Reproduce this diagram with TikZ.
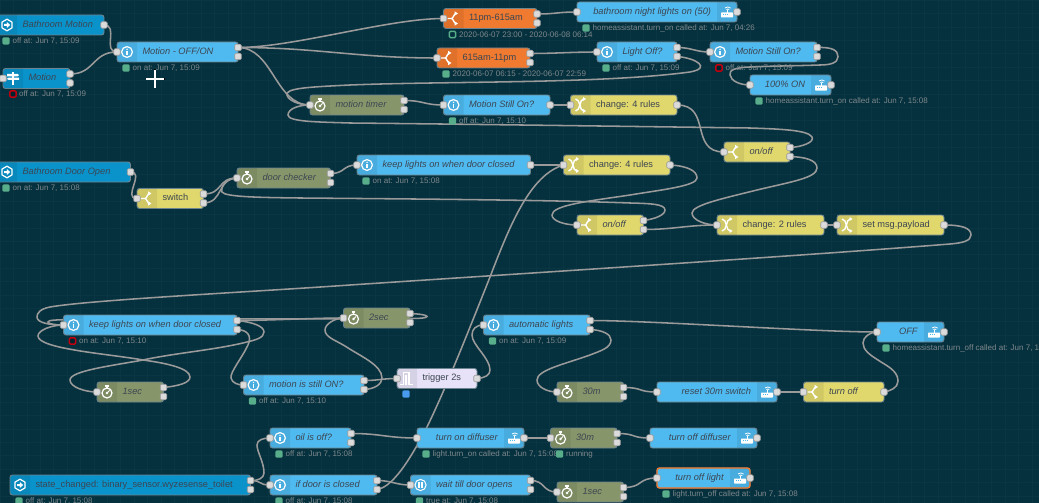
\documentclass[tikz,border=0pt]{standalone}
\usepackage{fontspec}
\setmainfont{Liberation Sans}
\usetikzlibrary{calc}
\definecolor{nrbg}{HTML}{05303D}
\definecolor{nrgrid}{HTML}{0A3643}
\definecolor{nrwire}{HTML}{9A9A9A}
\definecolor{nrline}{HTML}{6C8590}
\definecolor{nrtxt}{HTML}{3C4552}
\definecolor{nrstat}{HTML}{7E888C}
\definecolor{nrblue}{HTML}{4FBAEF}
\definecolor{nrdeep}{HTML}{0A93CB}
\definecolor{nryel}{HTML}{E0D86C}
\definecolor{nroli}{HTML}{87966A}
\definecolor{nrora}{HTML}{F07A2F}
\definecolor{nrlav}{HTML}{E7E2F7}
\definecolor{nrgrn}{HTML}{58AD8A}
\definecolor{nrred}{HTML}{C00010}
\definecolor{nrdot}{HTML}{4A9AEF}
\pgfdeclarelayer{gridl}\pgfdeclarelayer{wirel}
\pgfsetlayers{gridl,wirel,main}
\tikzset{
  nrbox/.style={draw=nrline,line width=.9pt,rounded corners=2.5pt,inner sep=0pt,outer sep=0pt,minimum height=20pt,text=nrtxt,font=\fontsize{9.25}{11}\selectfont},
  nrport/.style={draw=nrwire,fill=black!14,line width=.6pt,rounded corners=1.2pt,minimum size=6.5pt,inner sep=0pt,outer sep=0pt},
  wire/.style={draw=nrwire,line width=1.55pt,line cap=round},
  icl/.style={draw=white,line width=1.2pt},
  dotg/.style={fill=nrgrn,rounded corners=1.4pt,minimum size=7.4pt,inner sep=0pt},
  dotb/.style={fill=nrdot,rounded corners=1.4pt,minimum size=7.4pt,inner sep=0pt},
  dotr/.style={draw=nrred,fill=nrbg!70!black,line width=1.4pt,rounded corners=1pt,minimum size=6.2pt,inner sep=0pt},
  dotq/.style={draw=nrgrn,fill=nrbg,line width=1.4pt,rounded corners=1pt,minimum size=6.2pt,inner sep=0pt},
  stxt/.style={text=nrstat,inner sep=0pt,anchor=west,font=\fontsize{8}{9}\selectfont}
}
% icons, centred on (0,0); y runs downward
\newcommand\icinfo{\draw[icl] (0,0) circle (5.4);\fill[white] (0,-2.7) circle (.8);\fill[white] (-.7,-1.2) rectangle (.7,3);}
\newcommand\ichex{\draw[icl,line join=round] (0,-5.8)--(5,-2.9)--(5,2.9)--(0,5.8)--(-5,2.9)--(-5,-2.9)--cycle;\fill[white] (-3,-1)--(-.2,-1)--(-.2,-3)--(3.2,0)--(-.2,3)--(-.2,1)--(-3,1)--cycle;}
\newcommand\icsign{\fill[white] (-1,-6.5) rectangle (1,6.5);\fill[white] (-6,-4.6)--(4.5,-4.6)--(6.2,-3.4)--(4.5,-2.2)--(-6,-2.2)--cycle;\fill[white] (-4.5,-.8)--(6,-.8)--(6,1.4)--(-4.5,1.4)--(-6.2,.3)--cycle;}
\newcommand\icfork{\draw[white,line width=1.4pt] (-6,0)--(-2,0)..controls (0,0) and (0,-5)..(3,-5);\draw[white,line width=1.4pt] (-2,0)..controls (0,0) and (0,5)..(3,5);\fill[white] (1.2,-7.2)--(4.4,-5)--(1.2,-3)--cycle;\fill[white] (1.2,7.2)--(4.4,5)--(1.2,3)--cycle;}
\newcommand\ictimer{\draw[icl] (0,1) circle (5);\fill[white] (-1.8,-6.6) rectangle (1.8,-5.4);\fill[white] (-.7,-6) rectangle (.7,-3.5);\fill[white] (0,1) circle (1.3);\draw[white,line width=1pt] (0,1)--(2.6,-1.6);}
\newcommand\icmix{\draw[white,line width=1.4pt] (-5,-6)..controls (0,-6) and (-1,6)..(3,6);\draw[white,line width=1.4pt] (-5,6)..controls (0,6) and (-1,-6)..(3,-6);\fill[white] (2.5,-8)--(5.5,-6)--(2.5,-4)--cycle;\fill[white] (2.5,8)--(5.5,6)--(2.5,4)--cycle;}
\newcommand\icrouter{\fill[white,rounded corners=.6pt] (-6,.5) rectangle (6,5.5);\fill[nrblue] (-4,2.4) rectangle (-3,3.4);\fill[nrblue] (-2,2.4) rectangle (-1,3.4);\fill[nrblue] (0,2.4) rectangle (1,3.4);\draw[white,line width=.9pt] (.8,-2)--(.8,1);\draw[white,line width=.8pt] (-2,-4)..controls (0,-5.4) and (1.6,-5.4)..(3.6,-4);\draw[white,line width=.8pt] (-.6,-2.4)..controls (.2,-3.2) and (1.4,-3.2)..(2.2,-2.4);}
\newcommand\icpulse{\draw[white,line width=1.1pt] (-7,6)--(-3.4,6)--(-3.4,-6)--(2,-6)--(2,6)--(6,6);\draw[white,line width=1.1pt] (-1,6)--(-1,-4);}
\newcommand\icpause{\draw[white,line width=1pt] (0,0) circle (5.6);\fill[white] (-2.2,-2.6) rectangle (-.7,2.6);\fill[white] (.7,-2.6) rectangle (2.2,2.6);}
% node: name, x1, x2, y1, colour, side, icon, text
\newcommand\nrn[8]{%
  \pgfmathsetmacro\nrw{#3-#2}\pgfmathsetmacro\nrcx{(#2+#3)/2}\pgfmathsetmacro\nrcy{#4+10}\pgfmathsetmacro\nryb{#4+20}%
  \if#6l%
    \node[nrbox,fill=#5,minimum width=\nrw pt] (#1) at (\nrcx,\nrcy) {\makebox[\nrw pt][l]{\rule[-2.5pt]{0pt}{9.5pt}\hspace{25.5pt}#8}};%
    \pgfmathsetmacro\nrsx{#2+20}\pgfmathsetmacro\nrix{#2+10}%
    \fill[black,opacity=.07,rounded corners=2.5pt] (#2,#4)--(#2,\nryb)[sharp corners]--(\nrsx,\nryb)--(\nrsx,#4)[rounded corners=2.5pt]--cycle;%
  \else%
    \node[nrbox,fill=#5,minimum width=\nrw pt] (#1) at (\nrcx,\nrcy) {\makebox[\nrw pt][r]{\rule[-2.5pt]{0pt}{9.5pt}#8\hspace{26pt}}};%
    \pgfmathsetmacro\nrsx{#3-20}\pgfmathsetmacro\nrix{#3-10}%
    \fill[black,opacity=.07,rounded corners=2.5pt] (#3,#4)--(#3,\nryb)[sharp corners]--(\nrsx,\nryb)--(\nrsx,#4)[rounded corners=2.5pt]--cycle;%
  \fi%
  \begin{scope}[shift={(\nrix,\nrcy)}]#7\end{scope}%
}
\newcommand\nrpi[1]{\node[nrport] (#1-i) at (#1.west) {};}
\newcommand\nrpo[1]{\node[nrport] (#1-o) at (#1.east) {};}
\newcommand\nrpt[1]{\node[nrport] (#1-o1) at ([yshift=4.5pt]#1.east) {};\node[nrport] (#1-o2) at ([yshift=-4.5pt]#1.east) {};}
\newcommand\nrst[3]{\node[#2] (#1-sd) at ([shift={(9pt,-6pt)}]#1.south west) {};\node[stxt] (#1-st) at ([shift={(15.5pt,-6pt)}]#1.south west) {#3};}
\newcommand\fw[3]{\draw[wire] (#1.center) .. controls +(#3,0) and +(-#3,0) .. (#2.center);}
\begin{document}
\begin{tikzpicture}[x=1pt,y=-1pt]
\useasboundingbox (0,0) rectangle (1039,503);
\begin{pgfonlayer}{gridl}
\fill[nrbg] (0,0) rectangle (1039,503);
\foreach \gx in {0,1,...,78}{\draw[nrgrid,line width=.5pt] ({\gx*13.4},0)--({\gx*13.4},503);}
\foreach \gy in {0,1,...,38}{\draw[nrgrid,line width=.5pt] (0,{\gy*13.4})--(1039,{\gy*13.4});}
\end{pgfonlayer}

% row 1
\nrn{bm}{-3}{104}{15}{nrdeep}{l}{\ichex}{\textit{Bathroom Motion}}\nrpo{bm}\nrst{bm}{dotg}{off at: Jun 7, 15:09}
\nrn{mn}{3}{70}{68.5}{nrdeep}{l}{\icsign}{\textit{Motion}}\nrpi{mn}\nrpt{mn}
\node[dotr] (mn-sd) at (13,94) {};\node[stxt] (mn-st) at (19,94) {off at: Jun 7, 15:09};
\nrn{mo}{117}{238}{42}{nrblue}{l}{\icinfo}{\textit{Motion - OFF/ON}}\nrpi{mo}\nrpt{mo}\nrst{mo}{dotg}{on at: Jun 7, 15:09}
\nrn{ea}{443.5}{537}{8.5}{nrora}{l}{\icfork}{11pm-615am}\nrpi{ea}\nrpt{ea}\nrst{ea}{dotq}{2020-06-07 23:00 - 2020-06-08 06:14}
\nrn{eb}{437}{530}{48}{nrora}{l}{\icfork}{615am-11pm}\nrpi{eb}\nrpt{eb}\nrst{eb}{dotg}{2020-06-07 06:15 - 2020-06-07 22:59}
\nrn{nl}{577}{737}{2}{nrblue}{r}{\icrouter}{\textit{bathroom night lights on (50)}}\nrpi{nl}\nrpo{nl}\nrst{nl}{dotg}{homeassistant.turn\_on called at: Jun 7, 04:26}
\nrn{lo}{597}{677}{42}{nrblue}{l}{\icinfo}{\textit{Light Off?}}\nrpi{lo}\nrpt{lo}\nrst{lo}{dotg}{off at: Jun 7, 15:09}
\nrn{ms}{710}{817}{42}{nrblue}{l}{\icinfo}{\textit{Motion Still On?}}\nrpi{ms}\nrpt{ms}\nrst{ms}{dotr}{off at: Jun 7, 15:09}
\nrn{ho}{750}{831}{75}{nrblue}{r}{\icrouter}{\textit{100\% ON}}\nrpi{ho}\nrpo{ho}\nrst{ho}{dotg}{homeassistant.turn\_on called at: Jun 7, 15:08}
\nrn{mt}{310}{404}{95}{nroli}{l}{\ictimer}{\textit{motion timer}}\nrpi{mt}\nrpt{mt}
\nrn{mb}{443.5}{550}{95}{nrblue}{l}{\icinfo}{\textit{Motion Still On?}}\nrpi{mb}\nrpo{mb}\nrst{mb}{dotg}{off at: Jun 7, 15:10}
\nrn{ca}{570.5}{677}{95}{nryel}{l}{\icmix}{change: 4 rules}\nrpi{ca}\nrpo{ca}
\nrn{oa}{724}{790}{142}{nryel}{l}{\icfork}{\textit{on/off}}\nrpi{oa}\nrpt{oa}
% door
\nrn{bd}{-3}{130.5}{162}{nrdeep}{l}{\ichex}{\textit{Bathroom Door Open}}\nrpo{bd}\nrst{bd}{dotg}{on at: Jun 7, 15:08}
\nrn{sw}{137}{203.5}{188.5}{nryel}{l}{\icfork}{switch}\nrpi{sw}\nrpt{sw}
\nrn{dc}{237}{330.5}{168}{nroli}{l}{\ictimer}{\textit{door checker}}\nrpi{dc}\nrpt{dc}
\nrn{kl}{357}{530.5}{155}{nrblue}{l}{\icinfo}{\textit{keep lights on when door closed}}\nrpi{kl}\nrpo{kl}\nrst{kl}{dotg}{on at: Jun 7, 15:08}
\nrn{cb}{563.5}{670}{155}{nryel}{l}{\icmix}{change: 4 rules}\nrpi{cb}\nrpo{cb}
\nrn{ob}{577}{643.5}{215}{nryel}{l}{\icfork}{\textit{on/off}}\nrpi{ob}\nrpt{ob}
\nrn{cc}{717}{824}{215}{nryel}{l}{\icmix}{change: 2 rules}\nrpi{cc}\nrpo{cc}
\nrn{sm}{837}{944}{215}{nryel}{l}{\icmix}{set msg.payload}\nrpi{sm}\nrpo{sm}
% middle
\nrn{kb}{63.5}{237}{315}{nrblue}{l}{\icinfo}{\textit{keep lights on when door closed}}\nrpi{kb}\nrpt{kb}\nrst{kb}{dotr}{on at: Jun 7, 15:10}
\nrn{ts}{343.5}{410}{308}{nroli}{l}{\ictimer}{\textit{2sec}}\nrpi{ts}\nrpt{ts}
\nrn{al}{483.5}{590}{315}{nrblue}{l}{\icinfo}{\textit{automatic lights}}\nrpi{al}\nrpt{al}\nrst{al}{dotg}{on at: Jun 7, 15:09}
\nrn{of}{877}{944}{322}{nrblue}{r}{\icrouter}{\textit{OFF}}\nrpi{of}\nrpo{of}\nrst{of}{dotg}{homeassistant.turn\_off called at: Jun 7, 15:08}
\nrn{os}{97}{163.5}{382}{nroli}{l}{\ictimer}{\textit{1sec}}\nrpi{os}\nrpt{os}
\nrn{mi}{243.5}{364}{375}{nrblue}{l}{\icinfo}{\textit{motion is still ON?}}\nrpi{mi}\nrpt{mi}\nrst{mi}{dotg}{off at: Jun 7, 15:10}
\nrn{tr}{397}{477}{368.5}{nrlav}{l}{\icpulse}{trigger 2s}\nrpi{tr}\nrpo{tr}
\node[dotb] (tr-sd) at (406,394) {};
\nrn{mx}{557}{623.5}{382}{nroli}{l}{\ictimer}{\textit{30m}}\nrpi{mx}\nrpt{mx}
\nrn{rs}{657}{777}{382}{nrblue}{r}{\icrouter}{\textit{reset 30m switch}}\nrpi{rs}\nrpo{rs}
\nrn{to}{803.5}{884}{382}{nryel}{l}{\icfork}{\textit{turn off}}\nrpi{to}\nrpo{to}
% bottom
\nrn{oi}{270}{351}{428}{nrblue}{l}{\icinfo}{\textit{oil is off?}}\nrpi{oi}\nrpt{oi}\nrst{oi}{dotg}{off at: Jun 7, 15:08}
\nrn{td}{417}{524}{428}{nrblue}{r}{\icrouter}{\textit{turn on diffuser}}\nrpi{td}\nrpo{td}\nrst{td}{dotg}{light.turn\_on called at: Jun 7, 15:08}
\nrn{my}{550.5}{617}{428}{nroli}{l}{\ictimer}{\textit{30m}}\nrpi{my}\nrpt{my}\nrst{my}{dotg}{running}
\nrn{tf}{650}{757}{428}{nrblue}{r}{\icrouter}{\textit{turn off diffuser}}\nrpi{tf}\nrpo{tf}
\nrn{sc}{10}{250.5}{475}{nrdeep}{l}{\ichex}{state\_changed: binary\_sensor.wyzesense\_toilet}\nrpt{sc}\nrst{sc}{dotg}{off at: Jun 7, 15:08}
\nrn{id}{270}{377}{475}{nrblue}{l}{\icinfo}{\textit{if door is closed}}\nrpi{id}\nrpt{id}\nrst{id}{dotg}{off at: Jun 7, 15:08}
\nrn{wt}{410.5}{530.5}{475}{nrblue}{l}{\icpause}{\textit{wait till door opens}}\nrpi{wt}\nrpt{wt}\nrst{wt}{dotg}{true at: Jun 7, 15:08}
\nrn{sb}{557}{623.5}{482}{nroli}{l}{\ictimer}{\textit{1sec}}\nrpi{sb}\nrpt{sb}
\nrn{tl}{657}{750}{468}{nrblue}{r}{\icrouter}{\textit{turn off light}}
\draw[draw=nrora,line width=1.4pt,rounded corners=2.5pt] (tl.south west) rectangle (tl.north east);
\nrpi{tl}\nrpo{tl}\nrst{tl}{dotg}{light.turn\_off called at: Jun 7, 15:08}

\begin{pgfonlayer}{wirel}
\fw{bm-o}{mo-i}{15}
\fw{mn-o1}{mo-i}{25}
\fw{mo-o1}{ea-i}{55}
\fw{mo-o1}{eb-i}{80}
\fw{mo-o1}{mt-i}{35}
\fw{ea-o1}{nl-i}{20}
\fw{eb-o1}{lo-i}{25}
\fw{lo-o1}{ms-i}{15}
\draw[wire] (lo-o2.center) .. controls (696,58) and (712,68) .. (690,72) .. controls (600,84) and (450,81) .. (350,85) .. controls (310,87) and (285,88) .. (287,95) .. controls (288,100) and (298,105) .. (mt-i.center);
\draw[wire] (oa-o1.center) .. controls (802,147) and (815,142) .. (812,137) .. controls (808,130) and (780,129) .. (750,128) .. controls (600,126) and (450,124) .. (350,123) .. controls (320,122) and (288,122) .. (288,115) .. controls (288,109) and (298,105) .. (mt-i.center);
\draw[wire] (ms-o1.center) .. controls (832,47) and (838,50) .. (838,56.7) .. controls (838,63) and (830,65) .. (820,65) .. controls (790,66) and (770,66) .. (750,67) .. controls (735,67.5) and (729,70) .. (730,75) .. controls (731,81) and (740,85) .. (ho-i.center);
\fw{mt-o1}{mb-i}{20}
\draw[wire] (mb-o.center) -- (ca-i.center);
\fw{ca-o}{oa-i}{35}
\draw[wire] (oa-o2.center) .. controls (805,157) and (817,160) .. (817,168) .. controls (817,178) and (790,182) .. (757,190) .. controls (725,198) and (692,205) .. (692,213) .. controls (692,220) and (705,225) .. (cc-i.center);
\fw{bd-o}{sw-i}{15}
\fw{sw-o1}{dc-i}{20}
\fw{sw-o2}{dc-i}{20}
\draw[wire] (ob-o1.center) .. controls (655,219) and (665,215) .. (665,210) .. controls (665,204) and (650,203.5) .. (630,203) .. controls (550,200) and (420,199) .. (300,198) .. controls (260,197.5) and (225,197) .. (222,192) .. controls (220,186) and (228,178) .. (dc-i.center);
\fw{dc-o1}{kl-i}{15}
\draw[wire] (kl-o.center) -- (cb-i.center);
\draw[wire] (cb-o.center) .. controls (688,166) and (697,171) .. (697,178) .. controls (697,186) and (660,190) .. (630,195) .. controls (590,201) and (552,205) .. (552,215) .. controls (552,221) and (565,225) .. (ob-i.center);
\draw[wire] (id-o2.center) .. controls (395,487) and (415,450) .. (427,427) .. controls (445,390) and (465,340) .. (490,277) .. controls (510,225) and (530,175) .. (cb-i.center);
\fw{ob-o2}{cc-i}{30}
\draw[wire] (cc-o.center) -- (sm-i.center);
\draw[wire] (sm-o.center) .. controls (962,225) and (971,228) .. (971,235) .. controls (971,241) and (962,243) .. (950,244) .. controls (800,256) and (500,275) .. (350,285) .. controls (250,292) and (90,300) .. (50,307) .. controls (40,309) and (37,313) .. (37,317) .. controls (37,323) and (50,325) .. (kb-i.center);
\draw[wire] (os-o1.center) .. controls (178,386) and (190,383) .. (190,377) .. controls (190,368) and (165,363) .. (143,360) .. controls (110,354) and (38,349) .. (38,336) .. controls (38,330) and (52,325) .. (kb-i.center);
\draw[wire] (kb-o1.center) .. controls (252,322) and (264,326) .. (264,332) .. controls (264,338) and (255,340) .. (247,342) .. controls (215,350) and (175,353) .. (143,360) .. controls (110,366) and (70,371) .. (70,380) .. controls (70,387) and (85,392) .. (os-i.center);
\fw{kb-o1}{ts-i}{30}
\draw[wire] (kb-o2.center) .. controls (248,330) and (252,336) .. (248,345) .. controls (242,358) and (230,372) .. (231,378) .. controls (232,383) and (238,385) .. (mi-i.center);
\draw[wire] (mi-o2.center) .. controls (375,389) and (382,384) .. (382,378) .. controls (382,365) and (360,356) .. (345,346) .. controls (335,340) and (325,337) .. (325,330) .. controls (325,324) and (335,318) .. (ts-i.center);
\draw[wire] (ts-o1.center) .. controls (420,314) and (427,315) .. (427,316.5) .. controls (427,318) and (420,318.5) .. (410,318.5) .. controls (300,319) and (100,319) .. (70,319.5) .. controls (55,320) and (48,320) .. (48,322) .. controls (48,324) and (55,325) .. (kb-i.center);
\fw{mi-o1}{tr-i}{15}
\draw[wire] (tr-o.center) .. controls (485,378) and (490,375) .. (490,370) .. controls (490,358) and (472,345) .. (472,335) .. controls (472,329) and (476,325) .. (al-i.center);
\fw{al-o1}{of-i}{60}
\draw[wire] (to-o.center) .. controls (890,391) and (898,388) .. (898,381) .. controls (898,370) and (885,365) .. (878,360) .. controls (870,355) and (863,350) .. (863,343) .. controls (863,337) and (870,332) .. (of-i.center);
\draw[wire] (al-o2.center) .. controls (602,330) and (611,334) .. (611,340) .. controls (611,348) and (600,351) .. (590,355) .. controls (565,364) and (537,370) .. (537,380) .. controls (537,387) and (547,392) .. (mx-i.center);
\fw{mx-o1}{rs-i}{20}
\draw[wire] (rs-o.center) -- (to-i.center);
\draw[wire] (sc-o1.center) .. controls (258,481) and (264,478) .. (264,473) .. controls (264,462) and (257,452) .. (257,445) .. controls (257,440) and (263,438) .. (oi-i.center);
\fw{sc-o1}{id-i}{12}
\fw{oi-o1}{td-i}{30}
\draw[wire] (td-o.center) -- (my-i.center);
\fw{my-o1}{tf-i}{20}
\fw{id-o1}{wt-i}{15}
\fw{wt-o1}{sb-i}{15}
\fw{sb-o1}{tl-i}{20}
\end{pgfonlayer}

% pointer
\draw[black,line width=2.6pt] (155,69.5)--(155,88.5) (145.5,79)--(164.5,79);
\draw[white,line width=1.2pt] (155,70)--(155,88) (146,79)--(164,79);
\end{tikzpicture}
\end{document}
